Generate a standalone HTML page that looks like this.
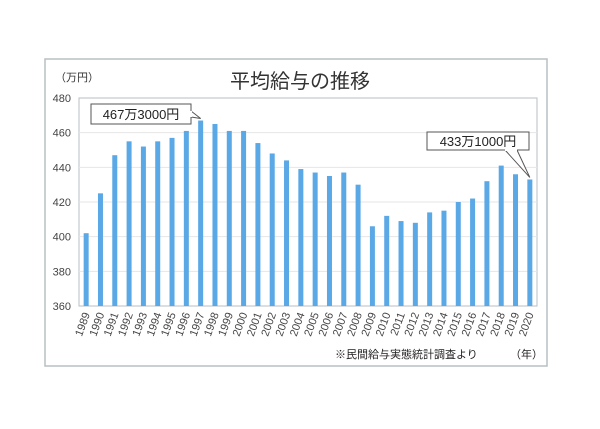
<!DOCTYPE html>
<html><head><meta charset="utf-8"><style>
body{margin:0;width:600px;height:424px;background:#fff;overflow:hidden}
svg text{font-family:"Liberation Sans","Noto Sans CJK JP",sans-serif}
</style></head><body>
<svg width="600" height="424">
<rect x="45" y="59" width="502" height="307" fill="#fff" stroke="#b8bfc4" stroke-width="1.5"/>
<text x="300" y="88" font-size="20" text-anchor="middle" fill="#333">平均給与の推移</text>
<text x="55" y="81" font-size="11" fill="#333">（万円）</text>
<g id="plot"></g>
<text x="335" y="358" font-size="11" fill="#222">※民間給与実態統計調査より</text>
<text x="510" y="358" font-size="11" fill="#222">（年）</text>
</svg>
<script>
const years=[1989,1990,1991,1992,1993,1994,1995,1996,1997,1998,1999,2000,2001,2002,2003,2004,2005,2006,2007,2008,2009,2010,2011,2012,2013,2014,2015,2016,2017,2018,2019,2020];
const salaries=[402,425,447,455,452,455,457,461,467,465,461,461,454,448,444,439,437,435,437,430,406,412,409,408,414,415,420,422,432,441,436,433];
const yTicks=[360,380,400,420,440,460,480];
const X0=79,X1=537,Y0=306,Y1=98,ymin=360,ymax=480;
const NS="http://www.w3.org/2000/svg";
const g=document.getElementById('plot');
const step=(X1-X0)/years.length;
const xc=i=>X0+step*(i+0.5);
const y=v=>Y0-(v-ymin)/(ymax-ymin)*(Y0-Y1);
function mk(t,a,p){const e=document.createElementNS(NS,t);for(const k in a)e.setAttribute(k,a[k]);(p||g).appendChild(e);return e;}
const border=mk('rect',{x:X0,y:Y1,width:X1-X0,height:Y0-Y1,fill:'none',stroke:'#b8bfc4'});


yTicks.forEach(t=>{
 if(t>ymin&&t<ymax){const l=mk('line',{x1:X0,x2:X1,y1:y(t),y2:y(t),stroke:'#e6e6e6'});
 
 }
 const tx=mk('text',{x:X0-8,y:y(t)+4,'font-size':11,'text-anchor':'end',fill:'#444'});tx.textContent=t;
 
 
});
salaries.forEach((v,i)=>{
 const b=mk('rect',{x:xc(i)-2.5,y:y(v),width:5,height:Y0-y(v),fill:'#5aa8e6'});
 
 
 const tx=mk('text',{x:0,y:0,'font-size':11,'text-anchor':'end',fill:'#444',transform:`translate(${xc(i)+4},${Y0+8}) rotate(-70)`});tx.textContent=years[i];
 
 
});
function callout(idx,bx,by,bw,bh,label,px1,px2,name){
 const c=mk('g',{});
 
 
 const tx=xc(idx),ty=y(salaries[idx])-2;
 mk('rect',{x:bx,y:by,width:bw,height:bh,fill:'#fff',stroke:'#555'},c);
 mk('polyline',{points:`${px1[0]},${px1[1]} ${tx},${ty} ${px2[0]},${px2[1]}`,fill:'#fff',stroke:'#555'},c);
 mk('line',{x1:px1[0],y1:px1[1],x2:px2[0],y2:px2[1],stroke:'#fff','stroke-width':2},c);
 const t=mk('text',{x:bx+bw/2,y:by+bh/2+5,'font-size':13,'text-anchor':'middle',fill:'#222'},c);t.textContent=label;
}
const maxI=salaries.indexOf(Math.max(...salaries)),lastI=salaries.length-1;
callout(maxI,91,104,100,20,'467万3000円',[191,117],[191,111],'callout-peak');
callout(lastI,427,132,102,18,'433万1000円',[505,150],[517,150],'callout-latest');
</script>
</body></html>
